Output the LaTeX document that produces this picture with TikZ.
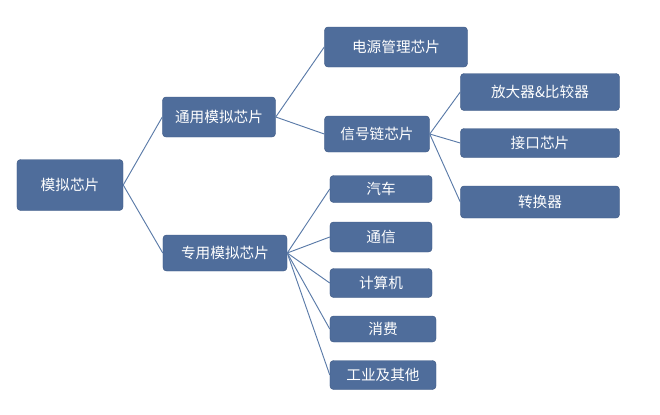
\documentclass[tikz,border=0pt]{standalone}
\usepackage{fontspec}
\setmainfont{Noto Sans CJK SC}
\usetikzlibrary{positioning}
\definecolor{boxblue}{HTML}{4F6D9B}
\definecolor{boxedge}{HTML}{3E5A85}
\definecolor{linkblue}{HTML}{5B7BA8}
\begin{document}
\begin{tikzpicture}
          [x=0.03cm,y=-0.03cm,
          box/.style={draw=boxedge, fill=boxblue, rounded corners=3pt, text=white,
              font=\fontsize{12.5}{14}\selectfont, inner sep=0pt, align=center},
          link/.style={draw=linkblue, thick}]
          \useasboundingbox (0,0) rectangle (660,415);
          % root and first level
          \node [box, minimum width=3.18cm, minimum height=1.53cm] (root) at (70,185) {模拟芯片};
          \node [box, minimum width=3.39cm, minimum height=1.2cm] (general) at (219,117) {通用模拟芯片};
          \node [box, minimum width=3.72cm, minimum height=1.08cm] (special) at (225,253) {专用模拟芯片};
          % general branch
          \node [box, minimum width=4.29cm, minimum height=1.2cm] (power) at (396,47) {电源管理芯片};
          \node [box, minimum width=3.15cm, minimum height=1.08cm] (signal) at (377,134) {信号链芯片};
          \node [box, minimum width=4.77cm, minimum height=1.11cm] (amp) at (540,92) {放大器\&比较器};
          \node [box, minimum width=4.77cm, minimum height=0.87cm] (iface) at (540,143) {接口芯片};
          \node [box, minimum width=4.77cm, minimum height=0.96cm] (conv) at (540,202) {转换器};
          % special branch
          \node [box, minimum width=3.06cm, minimum height=0.81cm] (auto) at (381,189) {汽车};
          \node [box, minimum width=3.06cm, minimum height=0.9cm] (comm) at (381,237) {通信};
          \node [box, minimum width=3.06cm, minimum height=0.87cm] (comp) at (381,283) {计算机};
          \node [box, minimum width=3.18cm, minimum height=0.78cm] (cons) at (383,329) {消费};
          \node [box, minimum width=3.18cm, minimum height=0.87cm] (indus) at (383,375) {工业及其他};
          \begin{scope}[every path/.style=link]
              \path (root.east) -- (general.west);
              \path (root.east) -- (special.west);
              \path (general.east) -- (power.west);
              \path (general.east) -- (signal.west);
              \path (signal.east) -- (amp.west);
              \path (signal.east) -- (iface.west);
              \path (signal.east) -- (conv.west);
              \foreach \leaf in {auto,comm,comp,cons,indus}
                  \path (special.east) -- (\leaf.west);
          \end{scope}
\end{tikzpicture}
\end{document}
